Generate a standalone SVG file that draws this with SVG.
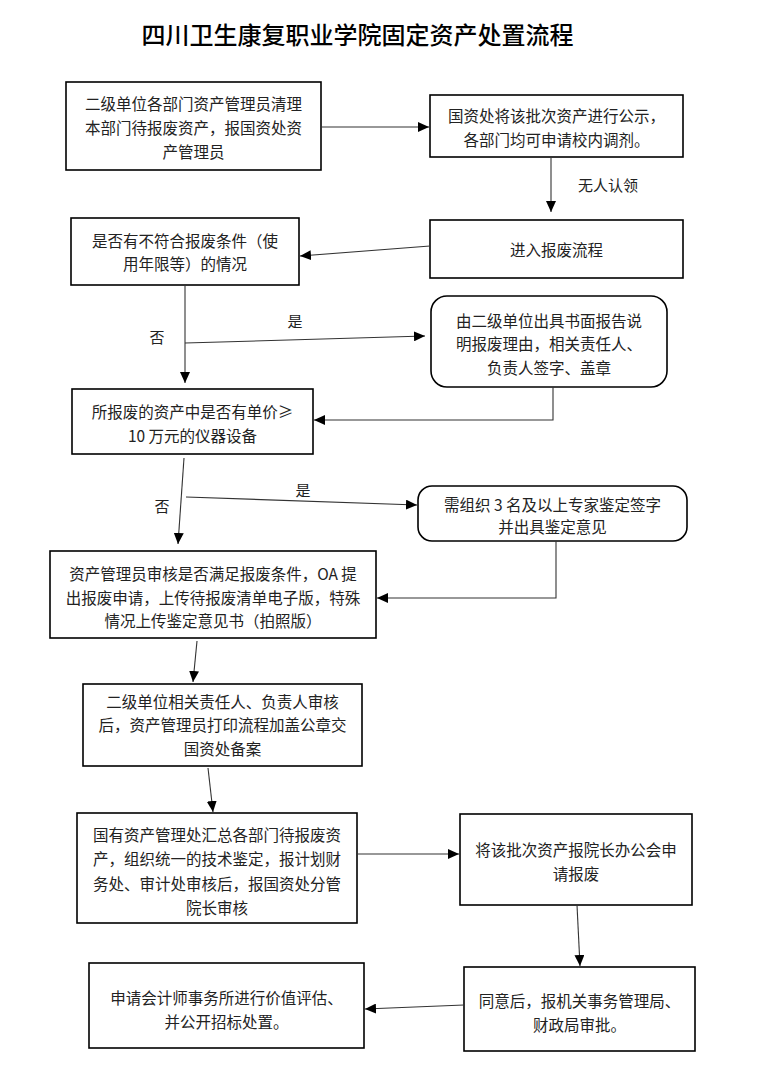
<svg xmlns="http://www.w3.org/2000/svg" width="781" height="1092" viewBox="0 0 781 1092">
<defs>
<marker id="arr" markerUnits="userSpaceOnUse" markerWidth="12" markerHeight="10" refX="11" refY="5" orient="auto">
<path d="M0,0 L11,5 L0,10 Z" fill="#000"/>
</marker>
<style>
.box{fill:#fff;stroke:#000;stroke-width:1.6}
.t{font-family:"Noto Sans CJK SC","Liberation Sans",sans-serif;font-size:15.5px;fill:#222;text-anchor:middle;dominant-baseline:central}
.lbl{font-family:"Noto Sans CJK SC","Liberation Sans",sans-serif;font-size:15px;fill:#222;text-anchor:middle;dominant-baseline:central}
.title{font-family:"Noto Sans CJK SC","Liberation Sans",sans-serif;font-size:24px;fill:#000;text-anchor:middle;dominant-baseline:central;font-weight:500}
.c{fill:none;stroke:#333;stroke-width:1.1;marker-end:url(#arr)}
</style>
</defs>
<rect width="781" height="1092" fill="#fff"/>
<text class="title" x="357.5" y="33">四川卫生康复职业学院固定资产处置流程</text>

<g id="n1"><rect class="box" x="66" y="82" width="255" height="88"/>
<text class="t" x="193.5" y="103">二级单位各部门资产管理员清理</text>
<text class="t" x="193.5" y="127">本部门待报废资产，报国资处资</text>
<text class="t" x="193.5" y="151">产管理员</text></g>

<g id="n2"><rect class="box" x="430" y="95" width="253" height="62"/>
<text class="t" x="556.5" y="115">国资处将该批次资产进行公示，</text>
<text class="t" x="556.5" y="139">各部门均可申请校内调剂。</text></g>

<g id="n3"><rect class="box" x="430" y="220" width="253" height="58"/>
<text class="t" x="556.5" y="249">进入报废流程</text></g>

<g id="n4"><rect class="box" x="71" y="218" width="228" height="67"/>
<text class="t" x="185" y="240">是否有不符合报废条件（使</text>
<text class="t" x="185" y="263">用年限等）的情况</text></g>

<g id="n5"><rect class="box" x="431" y="296" width="236" height="91" rx="16"/>
<text class="t" x="549" y="320">由二级单位出具书面报告说</text>
<text class="t" x="549" y="343">明报废理由，相关责任人、</text>
<text class="t" x="549" y="367">负责人签字、盖章</text></g>

<g id="n6"><rect class="box" x="72" y="389" width="241" height="65"/>
<text class="t" x="192.5" y="411">所报废的资产中是否有单价≥</text>
<text class="t" x="192.5" y="435">10 万元的仪器设备</text></g>

<g id="n7"><rect class="box" x="418" y="486" width="269" height="55" rx="14"/>
<text class="t" x="552.5" y="504">需组织 3 名及以上专家鉴定签字</text>
<text class="t" x="552.5" y="526">并出具鉴定意见</text></g>

<g id="n8"><rect class="box" x="50" y="551" width="326" height="87"/>
<text class="t" x="213" y="573">资产管理员审核是否满足报废条件，OA 提</text>
<text class="t" x="213" y="597">出报废申请，上传待报废清单电子版，特殊</text>
<text class="t" x="213" y="620">情况上传鉴定意见书（拍照版）</text></g>

<g id="n9"><rect class="box" x="83" y="684" width="279" height="82"/>
<text class="t" x="222.5" y="701">二级单位相关责任人、负责人审核</text>
<text class="t" x="222.5" y="724">后，资产管理员打印流程加盖公章交</text>
<text class="t" x="222.5" y="748">国资处备案</text></g>

<g id="n10"><rect class="box" x="77" y="813" width="280" height="110"/>
<text class="t" x="217" y="834">国有资产管理处汇总各部门待报废资</text>
<text class="t" x="217" y="858">产，组织统一的技术鉴定，报计划财</text>
<text class="t" x="217" y="883">务处、审计处审核后，报国资处分管</text>
<text class="t" x="217" y="907">院长审核</text></g>

<g id="n11"><rect class="box" x="460" y="814" width="232" height="91"/>
<text class="t" x="576" y="849">将该批次资产报院长办公会申</text>
<text class="t" x="576" y="873">请报废</text></g>

<g id="n12"><rect class="box" x="464" y="967" width="231" height="84"/>
<text class="t" x="579.5" y="1000">同意后，报机关事务管理局、</text>
<text class="t" x="579.5" y="1024">财政局审批。</text></g>

<g id="n13"><rect class="box" x="89" y="963" width="275" height="85"/>
<text class="t" x="226.5" y="997">申请会计师事务所进行价值评估、</text>
<text class="t" x="226.5" y="1021">并公开招标处置。</text></g>

<g id="connectors">
<line class="c" x1="321" y1="127" x2="429" y2="127"/>
<line class="c" x1="551" y1="157" x2="551" y2="212"/>
<line class="c" x1="430" y1="246" x2="300" y2="256"/>
<line class="c" x1="185" y1="285" x2="185" y2="383"/>
<line class="c" x1="185" y1="343" x2="425" y2="336"/>
<polyline class="c" points="553,387 553,420 314,420"/>
<line class="c" x1="184" y1="458" x2="178" y2="544"/>
<line class="c" x1="186" y1="497" x2="417" y2="505"/>
<polyline class="c" points="556,541 556,598 377,598"/>
<line class="c" x1="197" y1="641" x2="193" y2="682"/>
<line class="c" x1="208" y1="768" x2="213" y2="812"/>
<line class="c" x1="357" y1="854" x2="459" y2="854"/>
<line class="c" x1="577" y1="905" x2="580" y2="966"/>
<line class="c" x1="464" y1="1005" x2="365" y2="1009"/>
</g>
<g id="labels">
<text class="lbl" x="608" y="184">无人认领</text>
<text class="lbl" x="157" y="336">否</text>
<text class="lbl" x="295" y="320">是</text>
<text class="lbl" x="162" y="505">否</text>
<text class="lbl" x="303" y="489">是</text>
</g>
</svg>
